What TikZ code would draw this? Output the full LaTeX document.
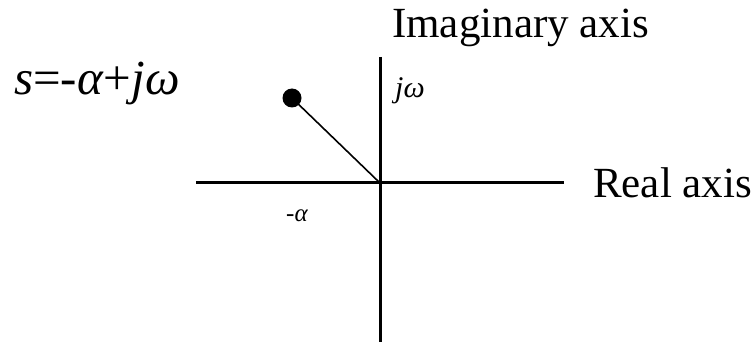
\documentclass[tikz,border=0pt]{standalone}
\usepackage{fontspec}
\setmainfont{Liberation Serif}
\tikzset{
  axis/.style={line width=3pt},
  big/.style={font=\fontsize{43}{48}\selectfont, inner sep=0pt},
  small/.style={font=\fontsize{25}{29}\selectfont, inner sep=0pt}
}
\begin{document}
\begin{tikzpicture}[x=1pt,y=-1pt]
\useasboundingbox (0,0) rectangle (753,342);
\coordinate (o) at (380,183);
\coordinate (xl) at (196,183);
\coordinate (xr) at (564,183);
\coordinate (yt) at (380,57);
\coordinate (yb) at (380,342);
\draw[axis] (xl) -- (xr);
\draw[axis] (yt) -- (yb);
\node[circle, fill, inner sep=0pt, minimum size=19pt] (s) at (292,98) {};
\draw[line width=1.6pt] (s.center) -- (o);
\node[big, anchor=base west] (ima) at (392,38) {Imaginary axis};
\node[big, anchor=base west] (rea) at (593,198) {Real axis};
\node[big, font=\fontsize{49}{55}\selectfont, anchor=base west] (eq) at (14,95) {\textit{s}=-\textit{α}+\textit{jω}};
\node[small, font=\fontsize{30}{34}\selectfont, anchor=base west] (jw) at (395,98) {\textit{jω}};
\node[small, anchor=base west] (ma) at (286,222) {-\textit{α}};
\end{tikzpicture}
\end{document}
